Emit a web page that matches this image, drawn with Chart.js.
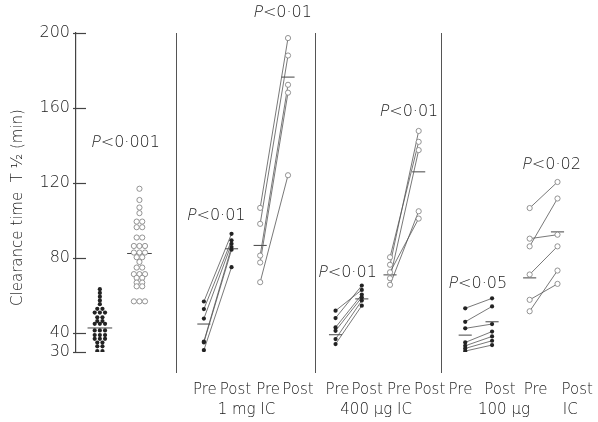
<!DOCTYPE html>
<html>
<head>
<meta charset="utf-8">
<script src="https://cdn.jsdelivr.net/npm/chart.js@4.4.1/dist/chart.umd.min.js"></script>
<style>
  html, body { margin: 0; padding: 0; background: #fff; }
  #wrap { width: 598px; height: 422px; }
</style>
</head>
<body>
<div id="wrap"><canvas id="chartClearance" width="598" height="422"></canvas></div>
<script>
// ── Values (clearance T1/2, min) ──
const yTicks = [30, 40, 80, 120, 160, 200];

const controlFilled = [63.5, 61.5, 59.5, 57.5, 55.5, 53, 53, 51, 51, 51, 48.5, 48.5, 46.5, 46.5,
  45, 45, 45, 41.5, 41.5, 41.5, 39, 39, 39, 37, 37, 37, 35, 35, 33, 33, 30.5, 30.5];
const controlOpen = [117, 111, 107, 104, 99.5, 99.5, 96.5, 96.5, 91, 91, 86.5, 86.5, 86.5,
  83, 83, 83, 80.5, 80.5, 78, 75, 75, 71.5, 71.5, 71.5, 69.5, 69.5, 67, 67, 65, 65, 57, 57, 57];
const controlMeans = [42.8, 82.5];

const mg1FilledPre  = [56.9, 52.9, 47.8, 35.6, 35.1, 31.0];
const mg1FilledPost = [93.0, 89.5, 87.7, 85.9, 84.5, 75.2];
const mg1OpenPre    = [106.8, 98.3, 81.4, 77.7, 67.2];
const mg1OpenPost   = [197.3, 188.0, 172.4, 168.2, 124.2];
const mg1Means      = [44.9, 85.0, 86.8, 176.5];

const ug400FilledPre  = [52.0, 48.1, 43.1, 41.3, 36.9, 34.2];
const ug400FilledPost = [63.1, 65.4, 60.6, 59.1, 57.4, 54.7];
const ug400OpenPre    = [80.5, 76.5, 72.5, 69.3, 65.8];
const ug400OpenPost   = [142.0, 147.8, 101.1, 137.6, 105.0];
const ug400Means      = [39.2, 58.3, 71.1, 126.0];

const ug100FilledPre  = [53.3, 46.1, 42.6, 35.1, 33.3, 31.9, 30.5];
const ug100FilledPost = [58.6, 54.3, 44.9, 40.9, 38.3, 36.0, 33.7];
const ug100OpenPre    = [106.7, 86.3, 90.4, 71.3, 57.8, 51.7];
const ug100OpenPost   = [120.6, 111.8, 92.5, 86.3, 66.3, 73.4];
const ug100Means      = [39.0, 46.1, 69.5, 94.0];

const axisLabels  = ['Pre', 'Post', 'Pre', 'Post', 'Pre', 'Post', 'Pre', 'Post', 'Pre', 'Post', 'Pre', 'Post'];
const groupLabels = ['1 mg IC', '400 μg IC', '100 μg', 'IC'];
const pTexts      = ['<0·001', '<0·01', '<0·01', '<0·01', '<0·01', '<0·05', '<0·02'];

// ── Positions on the hidden x axis (column slots) ──
const controlCols = [1.2, 3.19];
const panelCols   = [[6.43, 7.82, 9.26, 10.66], [13.05, 14.37, 15.79, 17.23], [19.57, 20.92, 22.81, 24.21]];
const separators  = [5.03, 12.0, 18.33];
const axisLabelX  = [6.48, 8.02, 9.66, 11.16, 13.15, 14.64, 16.24, 17.78, 19.33, 21.32, 23.11, 25.2];
const groupLabelX = [8.57, 15.09, 21.52, 24.85];
const pX = [2.49, 10.39, 7.05, 16.74, 13.65, 20.2, 23.91];
const pY = [141.3, 210.9, 102.8, 157.9, 72.4, 66.5, 129.6];

const FONT = "'DejaVu Sans', Lato, sans-serif";
const WEIGHT = '200';
const INK = '#1a1a1a';

// dot plot: equal values side by side
function swarm(values, x0, step) {
  const total = {}, seen = {};
  values.forEach(v => total[v] = (total[v] || 0) + 1);
  return values.map(v => {
    const k = seen[v] = (seen[v] || 0) + 1;
    return { x: x0 + (k - 1 - (total[v] - 1) / 2) * step, y: v };
  });
}

function pairs(pre, post, xPre, xPost) {
  const out = [];
  pre.forEach((v, i) => out.push({ x: xPre, y: v }, { x: xPost, y: post[i] }, { x: xPost, y: null }));
  return out;
}

function meanSegs(means, cols, half) {
  const out = [];
  means.forEach((m, i) => out.push({ x: cols[i] - half, y: m }, { x: cols[i] + half, y: m }, { x: cols[i], y: null }));
  return out;
}

const filledStyle = { pointRadius: 2.1, pointBackgroundColor: '#222', pointBorderColor: '#222', pointBorderWidth: 0 };
const openStyle   = { pointRadius: 2.6, pointBackgroundColor: '#fff', pointBorderColor: '#888', pointBorderWidth: 0.9 };
const pairLine    = { showLine: true, borderColor: '#555', borderWidth: 0.8, spanGaps: false };

const panels = [
  [mg1FilledPre, mg1FilledPost, mg1OpenPre, mg1OpenPost],
  [ug400FilledPre, ug400FilledPost, ug400OpenPre, ug400OpenPost],
  [ug100FilledPre, ug100FilledPost, ug100OpenPre, ug100OpenPost]
];

const datasets = [
  { data: swarm(controlFilled, controlCols[0], 0.26), ...filledStyle },
  { data: swarm(controlOpen, controlCols[1], 0.28), ...openStyle }
];
panels.forEach((p, i) => {
  const c = panelCols[i];
  datasets.push({ data: pairs(p[0], p[1], c[0], c[1]), ...pairLine, ...filledStyle });
  datasets.push({ data: pairs(p[2], p[3], c[2], c[3]), ...pairLine, ...openStyle });
});
const meanData = meanSegs(controlMeans, controlCols, 0.62)
  .concat(meanSegs(mg1Means, panelCols[0], 0.33))
  .concat(meanSegs(ug400Means, panelCols[1], 0.33))
  .concat(meanSegs(ug100Means, panelCols[2], 0.33));
datasets.push({ data: meanData, showLine: true, borderColor: '#444', borderWidth: 1, pointRadius: 0, spanGaps: false });

const decor = {
  id: 'decor',
  beforeDatasetsDraw(chart) {
    const { ctx, chartArea, scales: { x, y } } = chart;
    ctx.save();
    ctx.strokeStyle = '#555';
    ctx.lineWidth = 1;
    separators.forEach(s => {
      const px = Math.round(x.getPixelForValue(s)) + 0.5;
      ctx.beginPath(); ctx.moveTo(px, chartArea.top); ctx.lineTo(px, chartArea.bottom + 21); ctx.stroke();
    });
    ctx.strokeStyle = '#444';
    ctx.lineWidth = 1.2;
    yTicks.forEach(t => {
      const py = Math.round(y.getPixelForValue(t)) + 0.5;
      ctx.beginPath(); ctx.moveTo(chartArea.left - 3, py); ctx.lineTo(chartArea.left + 10, py); ctx.stroke();
    });
    ctx.restore();
  },
  afterDraw(chart) {
    const { ctx, chartArea, scales: { x, y } } = chart;
    ctx.save();
    ctx.fillStyle = INK;
    ctx.textBaseline = 'middle';
    ctx.textAlign = 'left';
    ctx.font = `${WEIGHT} 16px ${FONT}`;
    // P values, the P slanted by hand so it keeps the light weight
    pTexts.forEach((t, i) => {
      const wP = ctx.measureText('P').width;
      const wT = ctx.measureText(t).width;
      const x0 = x.getPixelForValue(pX[i]) - (wP + wT) / 2;
      const py = y.getPixelForValue(pY[i]);
      ctx.save();
      ctx.translate(x0, py);
      ctx.transform(1, 0, -0.2, 1, 0, 0);
      ctx.fillText('P', 0, 0);
      ctx.restore();
      ctx.fillText(t, x0 + wP, py);
    });
    // dose labels
    ctx.font = `${WEIGHT} 15px ${FONT}`;
    ctx.textAlign = 'center';
    groupLabels.forEach((g, i) => ctx.fillText(g, x.getPixelForValue(groupLabelX[i]), chartArea.bottom + 58));
    // y title
    ctx.translate(18, (chartArea.top + chartArea.bottom) / 2 + 15);
    ctx.rotate(-Math.PI / 2);
    ctx.fillText('Clearance time  T ¹⁄₂ (min)', 0, 0);
    ctx.restore();
  }
};

new Chart(document.getElementById('chartClearance'), {
  type: 'scatter',
  data: { datasets },
  options: {
    responsive: false,
    animation: false,
    layout: { padding: { top: 33, right: 0, bottom: 0, left: 0 } },
    plugins: { legend: { display: false }, tooltip: { enabled: false } },
    scales: {
      x: {
        type: 'linear', min: 0, max: 26,
        grid: { display: false }, border: { display: false },
        afterBuildTicks: s => { s.ticks = axisLabelX.map(v => ({ value: v })); },
        afterFit: s => { s.height = 70; s.paddingLeft = 0; s.paddingRight = 0; },
        ticks: {
          autoSkip: false, maxRotation: 0, padding: 21, color: INK,
          font: { family: FONT, size: 15, weight: WEIGHT },
          callback: (v, i) => axisLabels[i]
        }
      },
      y: {
        type: 'linear', min: 30, max: 200,
        grid: { display: false, drawTicks: false },
        border: { display: true, color: '#444', width: 1.2 },
        afterBuildTicks: s => { s.ticks = yTicks.map(v => ({ value: v })); },
        afterFit: s => { s.width = 76; },
        ticks: { padding: 6, color: INK, font: { family: FONT, size: 16, weight: WEIGHT } }
      }
    }
  },
  plugins: [decor]
});
</script>
</body>
</html>
